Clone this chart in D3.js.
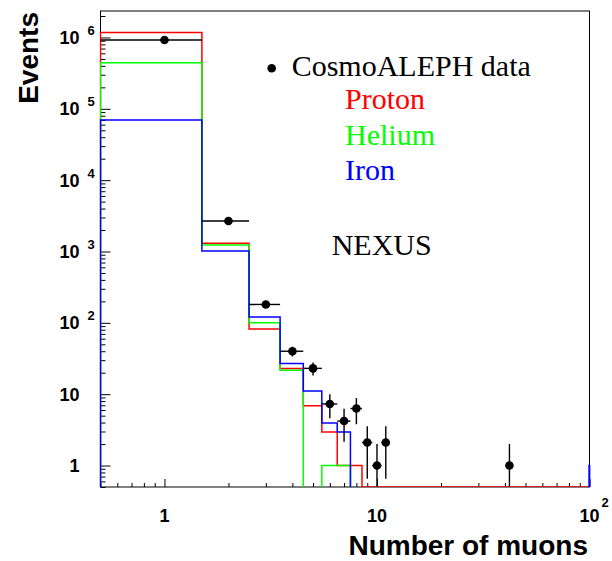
<!DOCTYPE html>
<html>
<head>
<meta charset="utf-8">
<script src="https://cdn.jsdelivr.net/npm/d3@7"></script>
<style>
  html, body { margin: 0; padding: 0; background: #fff; }
  svg { display: block; }
  .lbl { font-family: "Liberation Sans", Arial, sans-serif; font-weight: bold; fill: #000; }
  .leg { font-family: "Liberation Serif", "Times New Roman", serif; }
</style>
</head>
<body>
<svg id="chart" width="612" height="561"></svg>
<script>
// Muon multiplicity: simulated histograms (bins of width 1 centred on integers)
const binCenters    = [1, 2, 3, 4, 5, 6, 7, 8, 100];
const protonCounts  = [1.17e6, 1300, 82, 23, 6.9, 2.96, 1, 1, 0];
const heliumCounts  = [4.43e5, 1230, 100, 21.7, 0, 1, 1, 0, 0];
const ironCounts    = [6.97e4, 1020, 121, 27, 11.1, 3.96, 2.96, 0, 1];

// Measured events
const dataMuons  = [1, 2, 3, 4, 5, 6, 7, 8, 9, 10, 11, 42];
const dataCounts = [9.2e5, 2670, 181, 40, 23, 7.3, 4.2, 6.3, 2.1, 1.0, 2.1, 1.0];

// Axis tick labels
const xLabelValues = [1, 10, 100];
const xLabelBase   = ["1", "10", "10"];
const xLabelExp    = ["", "", "2"];
const yLabelValues = [1, 10, 100, 1e3, 1e4, 1e5, 1e6];
const yLabelBase   = ["1", "10", "10", "10", "10", "10", "10"];
const yLabelExp    = ["", "", "2", "3", "4", "5", "6"];

const legendNames = ["Proton", "Helium", "Iron"];

const svg = d3.select("#chart");
const L = 100.5, R = 589.5, T = 11, B = 487;
const xMin = 0.5, xMax = 100, yMin = 0.5, yMax = 2.35e6;

const x = d3.scaleLog().domain([xMin, xMax]).range([L, R]);
const y = d3.scaleLog().domain([yMin, yMax]).range([B, T]);

svg.append("defs").append("clipPath").attr("id", "plotClip")
  .append("rect").attr("x", L - 1).attr("y", T).attr("width", R - L + 2).attr("height", B - T);

// minor / major tick values for log axes
function logTicks(lo, hi) {
  const major = [], minor = [];
  for (let e = Math.floor(Math.log10(lo)); e <= Math.ceil(Math.log10(hi)); e++) {
    for (let m = 1; m <= 9; m++) {
      const v = m * Math.pow(10, e);
      if (v < lo * 0.999 || v > hi * 1.001) continue;
      (m === 1 ? major : minor).push(v);
    }
  }
  return { major, minor };
}

const xt = logTicks(xMin, xMax);
const yt = logTicks(yMin, yMax);

// Frame
svg.append("rect").attr("x", L).attr("y", T).attr("width", R - L).attr("height", B - T)
  .attr("fill", "none").attr("stroke", "#000").attr("stroke-width", 1);

function drawAxis(axis, tx, ty) {
  const g = svg.append("g").attr("transform", `translate(${tx},${ty})`).call(axis);
  g.select(".domain").remove();
  g.selectAll("line").attr("stroke", "#000").attr("stroke-width", 1);
  g.selectAll("text").remove();
}
drawAxis(d3.axisBottom(x).tickValues(xt.minor).tickSizeInner(-4).tickSizeOuter(0).tickFormat(""), 0, B);
drawAxis(d3.axisBottom(x).tickValues(xt.major).tickSizeInner(-8).tickSizeOuter(0).tickFormat(""), 0, B);
drawAxis(d3.axisLeft(y).tickValues(yt.minor).tickSizeInner(-5).tickSizeOuter(0).tickFormat(""), L, 0);
drawAxis(d3.axisLeft(y).tickValues(yt.major).tickSizeInner(-10).tickSizeOuter(0).tickFormat(""), L, 0);

// Tick labels
xLabelValues.forEach((v, i) => {
  const px = x(v);
  svg.append("text").attr("class", "lbl").attr("x", px).attr("y", 522)
    .attr("text-anchor", "middle").attr("font-size", 18).text(xLabelBase[i]);
  if (xLabelExp[i]) {
    svg.append("text").attr("class", "lbl").attr("x", px + 12).attr("y", 507)
      .attr("font-size", 13).text(xLabelExp[i]);
  }
});
yLabelValues.forEach((v, i) => {
  const py = y(v);
  svg.append("text").attr("class", "lbl").attr("x", 79.5).attr("y", py + 6.5)
    .attr("text-anchor", "end").attr("font-size", 18).text(yLabelBase[i]);
  if (yLabelExp[i]) {
    svg.append("text").attr("class", "lbl").attr("x", 87.5).attr("y", py - 2.5)
      .attr("font-size", 13).text(yLabelExp[i]);
  }
});

// Axis titles
svg.append("text").attr("class", "lbl").attr("x", 588).attr("y", 555)
  .attr("text-anchor", "end").attr("font-size", 28).text("Number of muons");
svg.append("text").attr("class", "lbl")
  .attr("transform", "translate(38,12) rotate(-90)")
  .attr("text-anchor", "end").attr("font-size", 28).text("Events");

// Histogram outlines
function histPoints(counts, floorTail) {
  const byBin = new Map(binCenters.map((c, i) => [c, counts[i]]));
  const last = d3.max(binCenters);
  const segs = [];
  let cur = null;
  if (floorTail) {
    cur = [[xMin, yMin]];
    for (let c = 1; c <= last; c++) {
      const v = byBin.get(c) || 0;
      const yv = v > 0 ? v : yMin;
      cur.push([c - 0.5, yv], [c + 0.5, yv]);
    }
    cur.push([last + 0.5, yMin]);
    return [cur];
  }
  for (let c = 1; c <= last; c++) {
    const v = byBin.get(c) || 0;
    if (v > 0) {
      if (!cur) cur = [[c - 0.5, yMin]];
      cur.push([c - 0.5, v], [c + 0.5, v]);
    } else if (cur) {
      cur.push([c - 0.5, yMin]);
      segs.push(cur); cur = null;
    }
  }
  if (cur) { cur.push([last + 0.5, yMin]); segs.push(cur); }
  return segs;
}

const line = d3.line().x(d => x(d[0])).y(d => y(d[1]));
const hg = svg.append("g").attr("clip-path", "url(#plotClip)");
const series = [
  { counts: protonCounts, color: "#ff0000", tail: true },
  { counts: heliumCounts, color: "#00ff00", tail: false },
  { counts: ironCounts,   color: "#0000ff", tail: false }
];
series.forEach(s => {
  histPoints(s.counts, s.tail).forEach(seg => {
    hg.append("path").attr("d", line(seg)).attr("fill", "none")
      .attr("stroke", s.color).attr("stroke-width", 1.5);
  });
});

// Data points with statistical error bars
const dg = svg.append("g").attr("clip-path", "url(#plotClip)");
dataMuons.forEach((m, i) => {
  const n = dataCounts[i], e = Math.sqrt(n);
  const lo = Math.max(n - e, yMin), hi = n + e;
  dg.append("line").attr("x1", x(m - 0.5)).attr("x2", x(m + 0.5))
    .attr("y1", y(n)).attr("y2", y(n)).attr("stroke", "#000").attr("stroke-width", 1.4);
  dg.append("line").attr("x1", x(m)).attr("x2", x(m))
    .attr("y1", y(lo)).attr("y2", y(hi)).attr("stroke", "#000").attr("stroke-width", 1.4);
  dg.append("circle").attr("cx", x(m)).attr("cy", y(n)).attr("r", 4.3).attr("fill", "#000");
});

// Legend
svg.append("circle").attr("cx", 271.7).attr("cy", 68.3).attr("r", 4.3).attr("fill", "#000");
svg.append("text").attr("class", "leg").attr("x", 291.7).attr("y", 76)
  .attr("font-size", 30).attr("fill", "#000").text("CosmoALEPH data");
legendNames.forEach((name, i) => {
  svg.append("text").attr("class", "leg").attr("x", 345).attr("y", 109.3 + i * 35.4)
    .attr("font-size", 30).attr("fill", series[i].color).text(name);
});
svg.append("text").attr("class", "leg").attr("x", 331.7).attr("y", 255)
  .attr("font-size", 30).attr("fill", "#000").text("NEXUS");
</script>
</body>
</html>
